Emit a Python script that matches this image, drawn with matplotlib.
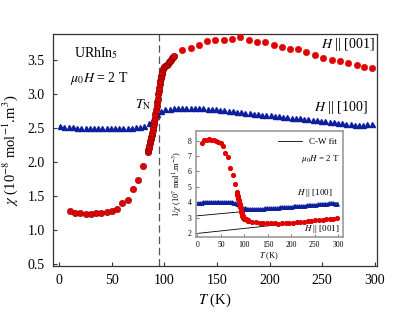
import matplotlib
matplotlib.use("Agg")
import matplotlib.pyplot as plt
import numpy as np

plt.rcParams['font.family'] = ['Liberation Serif', 'DejaVu Serif']
plt.rcParams['mathtext.fontset'] = 'stix'

# ---- data: H || [001] (red circles), chi in 1e-8 mol^-1 m^3 ----
T001_low = [10, 15, 20, 25, 30, 35, 40, 45, 50, 55, 60, 65, 70, 75, 80]
chi001_low = [1.28, 1.245, 1.245, 1.23, 1.24, 1.245, 1.255, 1.27, 1.28, 1.31,
              1.39, 1.445, 1.60, 1.735, 1.94]
T001_mid = [84, 84.5, 85, 85.5, 86, 86.5, 87, 87.5, 88, 88.5, 89, 89.5, 90, 90.5,
            91, 91.5, 92, 92.5, 93, 93.5, 94, 94.5, 95, 95.5, 96, 96.5, 97, 97.5,
            98, 99, 100, 101, 102, 103, 104, 105, 106, 107, 108, 109]
chi001_mid = [2.15, 2.18, 2.21, 2.24, 2.27, 2.30, 2.33, 2.37, 2.40, 2.43, 2.47, 2.51,
              2.56, 2.60, 2.65, 2.70, 2.76, 2.82, 2.88, 2.93, 2.99, 3.04, 3.09, 3.14,
              3.19, 3.23, 3.26, 3.29, 3.32, 3.36, 3.39, 3.41, 3.43, 3.445, 3.46, 3.48,
              3.50, 3.52, 3.54, 3.56]
T001_high = [117, 125, 133, 140.5, 148.5, 156.5, 164.5, 172, 180, 188, 196, 204,
             212, 219.5, 227, 235, 243, 251, 259, 267, 275, 283, 290, 297]
chi001_high = [3.64, 3.67, 3.72, 3.77, 3.79, 3.79, 3.80, 3.83, 3.79, 3.76, 3.76, 3.71,
               3.69, 3.66, 3.66, 3.61, 3.57, 3.52, 3.50, 3.475, 3.45, 3.43, 3.40, 3.375]

# ---- data: H || [100] (blue triangles) ----
T100 = [1, 5, 9, 13, 17, 21, 25, 29, 33, 37, 41, 45, 49, 53, 57, 61, 65, 69, 73, 77,
        81, 85, 89, 93, 97, 101, 105, 109, 113, 117, 121, 125, 129, 133, 137, 141,
        145, 149, 153, 157, 161, 165, 169, 173, 177, 181, 185, 189, 193, 197, 201,
        205, 209, 213, 217, 221, 225, 229, 233, 237, 241, 245, 249, 253, 257, 261,
        265, 269, 273, 277, 281, 285, 289, 293, 297]
chi100 = [2.52, 2.515, 2.51, 2.505, 2.50, 2.50, 2.495, 2.495, 2.495, 2.495, 2.495,
          2.495, 2.495, 2.495, 2.50, 2.50, 2.50, 2.50, 2.505, 2.515, 2.53, 2.565,
          2.62, 2.70, 2.75, 2.77, 2.78, 2.785, 2.79, 2.79, 2.79, 2.79, 2.79, 2.79,
          2.785, 2.78, 2.775, 2.77, 2.76, 2.755, 2.745, 2.74, 2.735, 2.73, 2.72,
          2.715, 2.71, 2.70, 2.695, 2.69, 2.685, 2.68, 2.67, 2.665, 2.66, 2.65,
          2.645, 2.64, 2.63, 2.625, 2.615, 2.61, 2.60, 2.595, 2.585, 2.58, 2.57,
          2.565, 2.555, 2.55, 2.545, 2.545, 2.545, 2.55, 2.555]

# Curie-Weiss fit lines for the inset (T, 1/chi in 1e7 mol m^-3)
cw_T = [-3, 300]
cw100 = [3.12, 3.97]
cw001 = [1.98, 2.96]

TN = 95
RED = '#e00000'
REDEDGE = '#8a0000'
BLUE = '#0d1f9e'
SP = '#333333'

fig = plt.figure(figsize=(3.95, 3.17), dpi=100)
ax = fig.add_axes([0.134, 0.161, 0.820, 0.732])

ax.axvline(TN, color='#555555', ls=(0, (6, 3)), lw=0.9, zorder=1)
ax.plot(T100, chi100, ls='none', marker='^', ms=3.6, color=BLUE, mec=BLUE, zorder=2)
ax.plot(T001_low, chi001_low, ls='none', marker='o', ms=4.6, color=RED,
        mec=REDEDGE, mew=0.4, zorder=3)
ax.plot(T001_mid, chi001_mid, ls='none', marker='o', ms=4.6, color=RED,
        mec=REDEDGE, mew=0.5, zorder=3)
ax.plot(T001_high, chi001_high, ls='none', marker='o', ms=4.6, color=RED,
        mec=RED, mew=0.4, zorder=3)

ax.set_xlim(-6, 302)
ax.set_ylim(0.47, 3.88)
ax.set_xticks([0, 50, 100, 150, 200, 250, 300])
ax.set_yticks([0.5, 1.0, 1.5, 2.0, 2.5, 3.0, 3.5])
ax.yaxis.set_major_formatter(matplotlib.ticker.FormatStrFormatter('%.1f'))
ax.tick_params(direction='in', length=3, width=0.8, labelsize=10, color=SP,
               pad=6)
for s in ax.spines.values():
    s.set_color(SP)
    s.set_linewidth(0.9)
ax.set_xlabel(r'$T$ (K)', fontsize=10.5, labelpad=3)
ax.set_ylabel(r'$\chi$ (10$^{-8}$ mol$^{-1}$.m$^{3}$)', fontsize=10.5, labelpad=5)

ax.text(0.133, 0.918, r'URhIn$_5$', transform=ax.transAxes, ha='center',
        va='center', fontsize=10)
ax.text(0.142, 0.81, r'$\mu_0H$ = 2 T', transform=ax.transAxes, ha='center',
        va='center', fontsize=10)
ax.text(0.278, 0.694, r'$T_{\rm N}$', transform=ax.transAxes, ha='center',
        va='center', fontsize=10)
ax.text(0.994, 0.953, r'$H$ || [001]', transform=ax.transAxes, ha='right',
        va='center', fontsize=10)
ax.text(0.972, 0.685, r'$H$ || [100]', transform=ax.transAxes, ha='right',
        va='center', fontsize=10)

# ---- inset: 1/chi in 1e7 mol m^-3 = 10 / chi(1e-8) ----
ins = fig.add_axes([0.496, 0.252, 0.372, 0.334])
ins.plot(cw_T, cw100, color='black', lw=0.6, zorder=1, label='C-W fit')
ins.plot(cw_T, cw001, color='black', lw=0.6, zorder=1)
ins.plot(T100, 10.0 / np.array(chi100), ls='none', marker='^', ms=2.4,
         color=BLUE, zorder=2)
T001_all = T001_low + T001_mid + T001_high
chi001_all = chi001_low + chi001_mid + chi001_high
ins.plot(T001_all, 10.0 / np.array(chi001_all), ls='none', marker='o', ms=2.7,
         color=RED, mec=RED, zorder=3)
ins.set_xlim(-3, 310)
ins.set_ylim(1.75, 8.6)
ins.set_xticks([0, 50, 100, 150, 200, 250, 300])
ins.set_yticks([2, 3, 4, 5, 6, 7, 8])
ins.tick_params(direction='in', length=2, width=0.6, labelsize=5.5,
                color='#666666', pad=3)
for s in ins.spines.values():
    s.set_color('#9a9a9a')
    s.set_linewidth(1.2)
ins.set_xlabel(r'$T$ (K)', fontsize=6, labelpad=1)
ins.set_ylabel(r'1/$\chi$ (10$^{7}$ mol$^{1}$.m$^{-3}$)', fontsize=6, labelpad=2)
ins.legend(loc='upper right', fontsize=6.5, frameon=False,
           handlelength=2.6, borderaxespad=0.3, handletextpad=0.8)
ins.text(0.98, 0.74, r'$\mu_0H$ = 2 T', transform=ins.transAxes, ha='right',
         va='center', fontsize=6.5)
ins.text(0.932, 0.415, r'$H$ || [100]', transform=ins.transAxes, ha='right',
         va='center', fontsize=6.5)
ins.text(0.98, 0.075, r'$H$ || [001]', transform=ins.transAxes, ha='right',
         va='center', fontsize=6.5)

fig.savefig('out.png', dpi=100)
